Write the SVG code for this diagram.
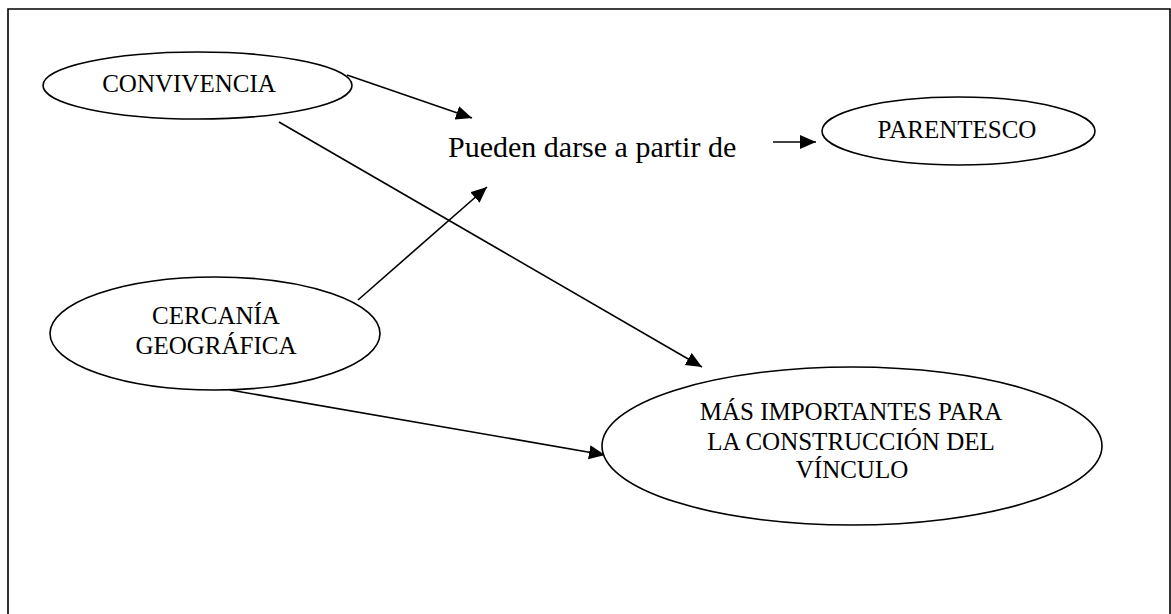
<svg xmlns="http://www.w3.org/2000/svg" width="1171" height="614" viewBox="0 0 1171 614">
<style>
.n{fill:#fff;stroke:#000;stroke-width:1.6}
.t{font-family:"Liberation Serif","Times New Roman",serif;font-size:25px;fill:#000;text-anchor:middle}
.p{font-family:"Liberation Serif","Times New Roman",serif;font-size:30px;fill:#000}
.e{fill:none;stroke:#000;stroke-width:1.6}
</style>
<defs>
<marker id="ah" markerUnits="userSpaceOnUse" markerWidth="17" markerHeight="15" refX="16" refY="7" orient="auto">
<path d="M0,0 L16,7 L0,14 z" fill="#000"/>
</marker>
</defs>
<rect width="1171" height="614" fill="#fff"/>
<path d="M8,614 L8,9 L1170,9 L1170,614" fill="none" stroke="#000" stroke-width="1.6"/>
<g id="connectors">
<line class="e" x1="347" y1="75" x2="472" y2="118" marker-end="url(#ah)"/>
<line class="e" x1="279" y1="122" x2="702" y2="367" marker-end="url(#ah)"/>
<line class="e" x1="358" y1="300" x2="487" y2="187" marker-end="url(#ah)"/>
<line class="e" x1="230" y1="390" x2="605" y2="455" marker-end="url(#ah)"/>
<line class="e" x1="773" y1="142" x2="816" y2="142" marker-end="url(#ah)"/>
</g>
<g id="convivencia">
<ellipse class="n" cx="197.5" cy="85.5" rx="154.5" ry="33.5"/>
<text class="t" x="189" y="92">CONVIVENCIA</text>
</g>
<g id="pueden">
<text class="p" x="448" y="157">Pueden darse a partir de</text>
</g>
<g id="parentesco">
<ellipse class="n" cx="958.5" cy="131" rx="136.5" ry="34"/>
<text class="t" x="957" y="138">PARENTESCO</text>
</g>
<g id="cercania">
<ellipse class="n" cx="215" cy="333.5" rx="165" ry="56.5"/>
<text class="t" x="216" y="324">CERCANÍA</text>
<text class="t" x="216" y="354">GEOGRÁFICA</text>
</g>
<g id="mas-importantes">
<ellipse class="n" cx="852" cy="446" rx="250" ry="79"/>
<text class="t" x="851" y="420">MÁS IMPORTANTES PARA</text>
<text class="t" x="851" y="450">LA CONSTRUCCIÓN DEL</text>
<text class="t" x="852" y="478">VÍNCULO</text>
</g>
</svg>
